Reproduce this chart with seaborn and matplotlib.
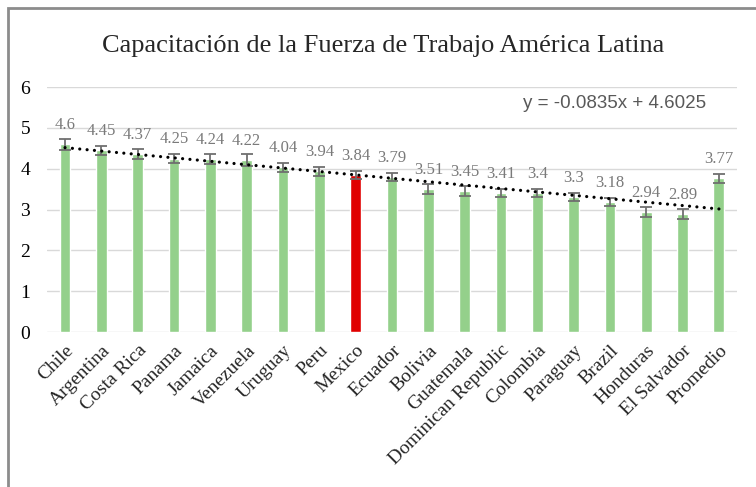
import numpy as np
import pandas as pd
import matplotlib
matplotlib.use("Agg")
import matplotlib.pyplot as plt
import seaborn as sns

countries = ["Chile", "Argentina", "Costa Rica", "Panama", "Jamaica", "Venezuela",
             "Uruguay", "Peru", "Mexico", "Ecuador", "Bolivia", "Guatemala",
             "Dominican Republic", "Colombia", "Paraguay", "Brazil", "Honduras",
             "El Salvador", "Promedio"]
values = [4.6, 4.45, 4.37, 4.25, 4.24, 4.22, 4.04, 3.94, 3.84, 3.79, 3.51, 3.45,
          3.41, 3.4, 3.3, 3.18, 2.94, 2.89, 3.77]
errors = [0.13, 0.11, 0.12, 0.11, 0.12, 0.15, 0.11, 0.11, 0.1, 0.1, 0.12, 0.12,
          0.1, 0.1, 0.1, 0.1, 0.13, 0.12, 0.11]
highlight = "Mexico"
trend_label = "y = -0.0835x + 4.6025"

green = "#94D08B"
red = "#E00000"

df = pd.DataFrame({"pais": countries, "valor": values, "err": errors})
df["x"] = np.arange(len(df))

sns.set_style("white")
plt.rcParams["font.family"] = ["Liberation Serif", "DejaVu Serif"]

fig = plt.figure(figsize=(7.56, 4.87), dpi=100)
ax = fig.add_axes([0.062, 0.318, 0.913, 0.503])

pal = {c: (red if c == highlight else green) for c in countries}
sns.barplot(data=df, x="pais", y="valor", hue="pais", palette=pal, legend=False,
            width=0.3, ax=ax, zorder=2, saturation=1)
ax.errorbar(df["x"], df["valor"], yerr=df["err"], fmt="none", ecolor="#6F6F6F",
            elinewidth=1.3, capsize=4, capthick=1.3, zorder=3)

# lineal trend (same fit as the spreadsheet trendline)
sns.regplot(data=df, x="x", y="valor", scatter=False, ci=None, truncate=True,
            ax=ax, line_kws=dict(color="black", lw=2.3, dashes=(0.01, 2.3),
                                 dash_capstyle="round", zorder=4))

for xi, v in zip(df["x"], df["valor"]):
    ax.text(xi, v + 0.47, f"{v:g}", ha="center", va="center", fontsize=12,
            color="#7A7A7A")

ax.text(0.955, 0.935, trend_label, transform=ax.transAxes,
        ha="right", va="center", fontsize=13.5, color="#595959",
        family=["Liberation Sans", "DejaVu Sans"])

ax.set_ylim(0, 6)
ax.set_xlim(-0.5, len(df) - 0.5)
ax.set_yticks(range(0, 7))
ax.yaxis.grid(True, color="#D9D9D9", lw=1)
ax.set_axisbelow(True)
for s in ax.spines.values():
    s.set_visible(False)
ax.set_xlabel("")
ax.set_ylabel("")
ax.tick_params(axis="y", length=0, pad=12, labelsize=14, labelcolor="black")
ax.tick_params(axis="x", length=0, pad=7, labelsize=14)
plt.setp(ax.get_xticklabels(), rotation=45, ha="right", rotation_mode="anchor")

fig.suptitle("Capacitación de la Fuerza de Trabajo América Latina", x=0.507, y=0.928,
             fontsize=19)

# marco del grafico
fig.patches.append(plt.Rectangle((0.011, -0.05), 1.05, 1.034, transform=fig.transFigure,
                                 fill=False, ec="#8C8C8C", lw=2))

fig.savefig("out.png", dpi=100)
